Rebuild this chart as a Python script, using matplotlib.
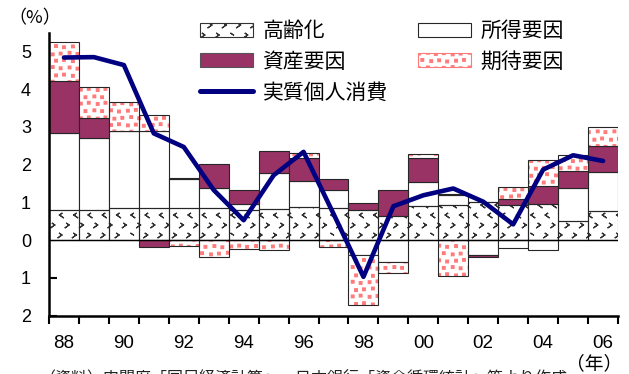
import warnings
import numpy as np
import matplotlib
matplotlib.use("Agg")
import matplotlib.pyplot as plt
import matplotlib.hatch as mhatch
from matplotlib.path import Path
from matplotlib.patches import Patch
from matplotlib.lines import Line2D
from matplotlib.ticker import FuncFormatter
from matplotlib.font_manager import FontProperties

warnings.filterwarnings("ignore", message="hatch must consist")

# ---- data (% contribution, year-on-year) ----
years = list(range(1988, 2007))
year_labels = ["88", "90", "92", "94", "96", "98", "00", "02", "04", "06"]
aging = [0.79, 0.79, 0.84, 0.84, 0.84, 0.84, 0.81, 0.82, 0.88, 0.84,
         0.80, 0.64, 0.90, 0.93, 1.00, 0.93, 0.95, 0.50, 0.77]
income = [2.06, 1.91, 2.05, 2.06, 0.78, 0.55, 0.14, 0.97, 0.69, 0.49,
          -0.40, -0.57, 0.65, 0.26, -0.40, -0.20, -0.27, 0.87, 1.03]
assets = [1.37, 0.55, 0.00, -0.18, 0.04, 0.63, 0.39, 0.58, 0.60, 0.28,
          0.19, 0.70, 0.62, 0.03, -0.04, 0.15, 0.48, 0.46, 0.70]
expectations = [1.02, 0.80, 0.77, 0.43, -0.15, -0.45, -0.23, -0.27, 0.15, -0.18,
                -1.32, -0.30, 0.11, -0.95, 0.00, 0.32, 0.69, 0.42, 0.51]
real_consumption = [4.84, 4.85, 4.64, 2.83, 2.47, 1.33, 0.53, 1.72, 2.34, 0.70,
                    -0.97, 0.90, 1.19, 1.37, 1.02, 0.42, 1.87, 2.25, 2.10]

labels_jp = {"aging": "高齢化", "income": "所得要因", "assets": "資産要因",
             "expect": "期待要因", "line": "実質個人消費"}
source_note = "（資料）内閣府「国民経済計算」、日本銀行「資金循環統計」等より作成"

JP = "Noto Sans CJK JP"
NUM = ["Liberation Sans", "DejaVu Sans"]


# ---- custom fill patterns ----
class ChevronHatch(mhatch.HatchPatternBase):
    """Staggered '<' / '>' marks, selected with the 'c' hatch character."""
    rows, cols = 10, 7

    def __init__(self, hatch, density):
        self.num_vertices = self.rows * self.cols * 5 if "c" in hatch else 0

    def set_vertices_and_codes(self, vertices, codes):
        w, h = 0.012, 0.017
        k = 0
        for r in range(self.rows):
            y = (r + 0.5) / self.rows
            shift = 0.25 if r % 2 == 0 else 0.75
            s = 1 if (r // 2) % 2 == 0 else -1
            for c in range(self.cols):
                x = (c + shift) / self.cols
                tip = (x - s * w, y)
                top = (x + s * w, y + h)
                bot = (x + s * w, y - h)
                vertices[k:k + 5] = [top, tip, bot, tip, top]
                codes[k] = Path.MOVETO
                codes[k + 1:k + 5] = Path.LINETO
                k += 5


class ConfettiHatch(mhatch.HatchPatternBase):
    """Small filled squares, selected with the 's' hatch character."""
    rows, cols = 14, 12

    def __init__(self, hatch, density):
        self.num_vertices = self.rows * self.cols * 5 if "s" in hatch else 0

    def set_vertices_and_codes(self, vertices, codes):
        a = 0.0135
        k = 0
        for r in range(self.rows):
            for c in range(self.cols):
                shift = 0.3 if r % 2 == 0 else 0.7
                jx = (((r * 5 + c * 3) % 5) - 2) * 0.002
                jy = (((r * 3 + c * 7) % 5) - 2) * 0.004
                x = (c + shift) / self.cols + jx
                y = (r + 0.5) / self.rows + jy
                vertices[k:k + 5] = [(x - a, y - a), (x + a, y - a),
                                     (x + a, y + a), (x - a, y + a), (x - a, y - a)]
                codes[k] = Path.MOVETO
                codes[k + 1:k + 4] = Path.LINETO
                codes[k + 4] = Path.CLOSEPOLY
                k += 5


mhatch._hatch_types.extend([ChevronHatch, ConfettiHatch])
plt.rcParams["hatch.linewidth"] = 0.85

# ---- colours ----
MAROON = "#993366"
PINK = "#ff7a7a"
NAVY = "#000080"
EDGE = "#262626"
CHEVRON = "#333333"

fig = plt.figure(figsize=(6.29, 3.74), dpi=100)
W, H = 629, 374
ax = fig.add_axes([49 / W, (H - 315.7) / H, (618 - 49) / W, (315.7 - 32.6) / H])

x = np.arange(len(years))
pos_base = np.zeros(len(years))
neg_base = np.zeros(len(years))


def stacked(values):
    global pos_base, neg_base
    v = np.asarray(values, dtype=float)
    bottom = np.where(v >= 0, pos_base, neg_base)
    pos_base = pos_base + np.where(v >= 0, v, 0)
    neg_base = neg_base + np.where(v < 0, v, 0)
    return v, bottom


v, b = stacked(aging)
ax.bar(x, v, bottom=b, width=1.0, facecolor="white", edgecolor=CHEVRON,
       hatch="c", linewidth=0, zorder=2)
ax.bar(x, v, bottom=b, width=1.0, fill=False, edgecolor=EDGE,
       linewidth=0.8, zorder=2.5)
v, b = stacked(income)
ax.bar(x, v, bottom=b, width=1.0, facecolor="white", edgecolor=EDGE,
       linewidth=0.8, zorder=2)
v, b = stacked(assets)
ax.bar(x, v, bottom=b, width=1.0, facecolor=MAROON, edgecolor=EDGE,
       linewidth=0.8, zorder=2)
v, b = stacked(expectations)
ax.bar(x, v, bottom=b, width=1.0, facecolor="white", edgecolor=PINK,
       hatch="s", linewidth=0, zorder=2)
ax.bar(x, v, bottom=b, width=1.0, fill=False, edgecolor=EDGE,
       linewidth=0.8, zorder=2.5)

ax.axhline(0, color="black", linewidth=1.0, zorder=3)
ax.plot(x, real_consumption, color=NAVY, linewidth=3.3, zorder=5,
        solid_joinstyle="round", solid_capstyle="round")

# ---- axes ----
ax.set_xlim(-0.5, len(years) - 0.5)
ax.set_ylim(-2, 5.5)
for side in ("top", "right"):
    ax.spines[side].set_visible(False)
for side in ("left", "bottom"):
    ax.spines[side].set_linewidth(1.8)
    ax.spines[side].set_color("black")

ax.set_yticks(range(-2, 6))
ax.yaxis.set_major_formatter(FuncFormatter(lambda val, pos: f"{abs(int(round(val)))}"))
ax.tick_params(axis="y", direction="in", length=6, width=1.5, pad=13,
               labelsize=13)
for t in ax.get_yticklabels():
    t.set_fontfamily(NUM)

ax.set_xticks(np.arange(-0.5, len(years), 1.0))
ax.tick_params(axis="x", which="major", direction="out", length=6, width=1.5,
               labelbottom=False)
ax.set_xticks(x[::2], minor=True)
ax.set_xticklabels(year_labels, minor=True)
ax.tick_params(axis="x", which="minor", length=0, pad=14, labelsize=13.5)
for t in ax.get_xticklabels(minor=True):
    t.set_fontfamily(NUM)

# ---- legend ----
handles = [
    Patch(facecolor="white", edgecolor=CHEVRON, hatch="c", linewidth=0.8),
    Patch(facecolor=MAROON, edgecolor="#555555", linewidth=0.8),
    Line2D([], [], color=NAVY, linewidth=3.6, solid_capstyle="round"),
    Patch(facecolor="white", edgecolor=EDGE, linewidth=0.8),
    Patch(facecolor="white", edgecolor=PINK, hatch="s", linewidth=0.8),
]
labels = [labels_jp["aging"], labels_jp["assets"], labels_jp["line"],
          labels_jp["income"], labels_jp["expect"]]
fig.legend(handles, labels, ncol=2, loc="upper left",
           bbox_to_anchor=(200 / W, 1 - 20 / H), frameon=False,
           borderpad=0, borderaxespad=0, handlelength=2.55, handleheight=0.65,
           handletextpad=0.45, columnspacing=1.45, labelspacing=0.42,
           prop=FontProperties(family=JP, size=15))

# ---- unit labels and source note ----
fig.text(8 / W, 1 - 18 / H, "（%）", fontsize=13, family=[JP], va="center",
         ha="left")
fig.text(566 / W, 1 - 364 / H, "（年）", fontsize=13.5, family=[JP], va="center",
         ha="left")
fig.text(40 / W, 1 - 370 / H, source_note, fontsize=11.5, family=[JP],
         va="top", ha="left", color="#222222")

fig.savefig("out.png", dpi=100)
